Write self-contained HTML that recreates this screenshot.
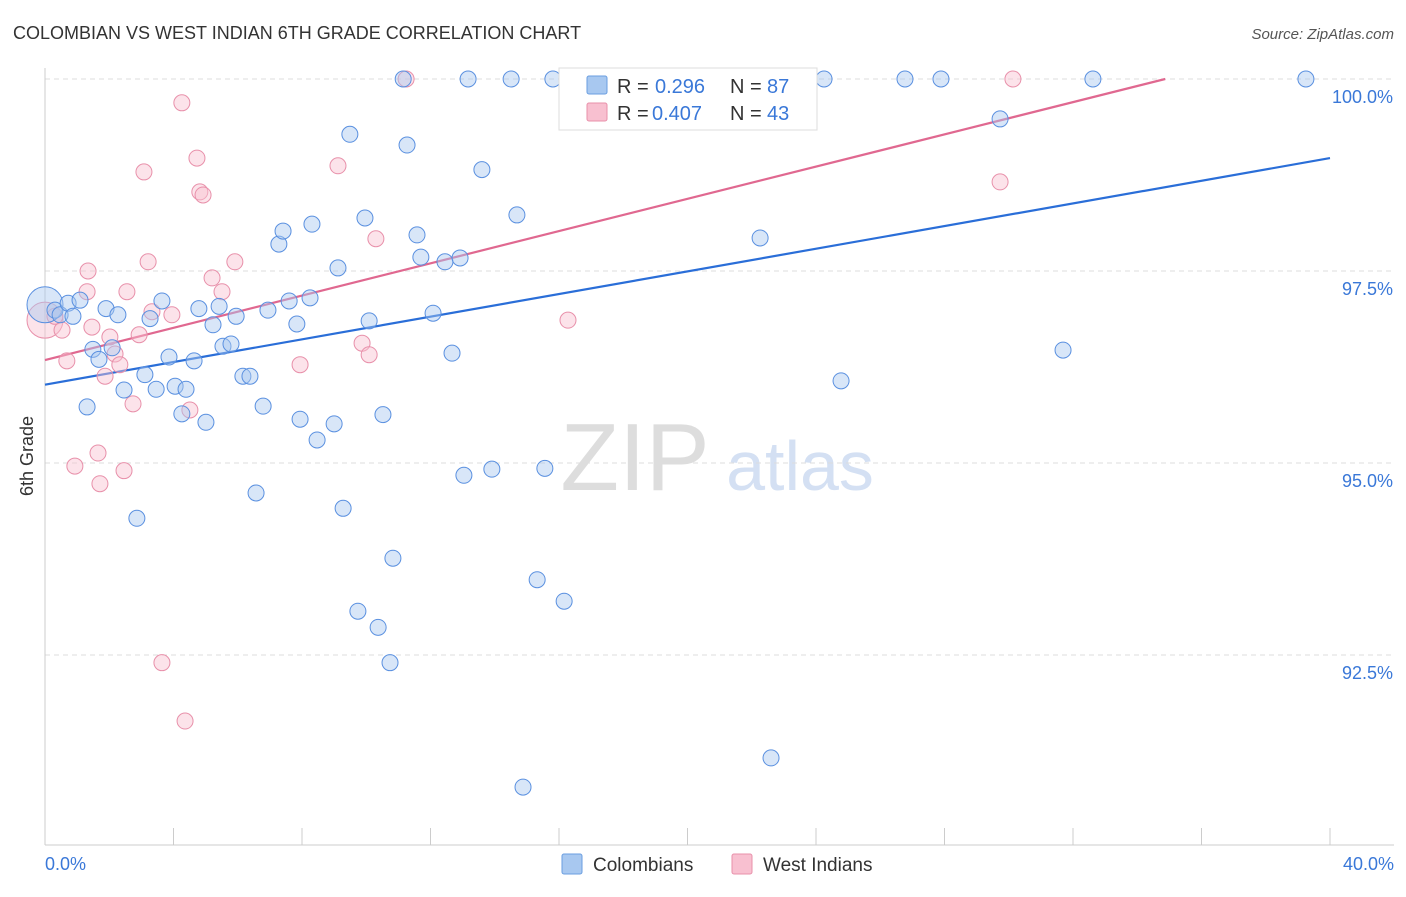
<!DOCTYPE html>
<html><head><meta charset="utf-8"><style>
body{margin:0;background:#fff;font-family:"Liberation Sans",sans-serif;}
svg text{font-family:"Liberation Sans",sans-serif;}
</style></head><body>
<svg id="c" width="1406" height="892" xmlns="http://www.w3.org/2000/svg">
<text x="13" y="39" font-size="18" fill="#333">COLOMBIAN VS WEST INDIAN 6TH GRADE CORRELATION CHART</text>
<text x="1394" y="39" font-size="15" fill="#555" font-style="italic" text-anchor="end">Source: ZipAtlas.com</text>
<text x="33" y="456" font-size="18" fill="#333" text-anchor="middle" transform="rotate(-90 33 456)">6th Grade</text>
<g><text x="635" y="490" font-size="96" fill="#ddd" text-anchor="middle" font-family="Liberation Serif">ZIP</text><text x="800" y="490" font-size="70" fill="#d4e0f3" text-anchor="middle">atlas</text></g>
<g id="grid"></g><g id="axes"></g><g id="lines"></g><g id="pts"></g>
<g>
<rect x="559" y="68" width="258" height="62" fill="#fff" stroke="#ddd"/>
<rect x="587" y="76" width="20" height="18" fill="#a8c8f0" stroke="#6a9ee0" rx="2"/>
<text x="617" y="93" font-size="20" fill="#333">R =</text>
<text x="655" y="93" font-size="20" fill="#3a78d8">0.296</text>
<text x="730" y="93" font-size="20" fill="#333">N =</text>
<text x="767" y="93" font-size="20" fill="#3a78d8">87</text>
<rect x="587" y="103" width="20" height="18" fill="#f8c0d0" stroke="#e890aa" rx="2"/>
<text x="617" y="120" font-size="20" fill="#333">R =</text>
<text x="652" y="120" font-size="20" fill="#3a78d8">0.407</text>
<text x="730" y="120" font-size="20" fill="#333">N =</text>
<text x="767" y="120" font-size="20" fill="#3a78d8">43</text>
</g>
<g>
<rect x="562" y="854" width="20" height="20" fill="#a8c8f0" stroke="#6a9ee0" rx="2"/>
<text x="593" y="871" font-size="19" fill="#333">Colombians</text>
<rect x="732" y="854" width="20" height="20" fill="#f8c0d0" stroke="#e890aa" rx="2"/>
<text x="763" y="871" font-size="19" fill="#333">West Indians</text>
</g>
</svg>
<script>
const blueX=[0,0.31,0.47,0.72,0.87,1.09,1.31,1.49,1.68,1.90,2.09,2.27,2.46,2.86,3.11,3.27,3.46,3.64,3.86,4.05,4.26,4.39,4.64,4.79,5.01,5.23,5.42,5.54,5.79,5.95,6.16,6.38,6.57,6.79,6.94,7.28,7.41,7.60,7.84,7.94,8.25,8.31,8.47,9.00,9.12,9.28,9.49,9.74,9.96,10.09,10.37,10.52,10.74,10.83,11.15,11.27,11.58,11.70,12.08,12.45,12.67,12.92,13.04,13.17,13.60,13.91,14.51,14.69,15.32,15.56,15.81,16.16,22.26,22.60,14.88,24.25,24.78,26.77,27.89,29.73,31.69,32.62,39.25];
const blueY=[97.06,96.99,96.93,97.08,96.91,97.12,95.73,96.48,96.35,97.01,96.50,96.93,95.95,94.28,96.15,96.88,95.96,97.11,96.38,96.00,95.64,95.96,96.33,97.01,95.53,96.80,97.04,96.52,96.55,96.91,96.13,96.13,94.61,95.74,96.99,97.85,98.02,97.11,96.81,95.57,97.15,98.11,95.30,95.51,97.54,94.41,99.28,93.07,98.19,96.85,92.86,95.63,92.40,93.76,100,99.14,97.97,97.68,96.95,97.62,96.43,97.67,94.84,100,98.82,94.92,100,98.23,93.48,94.93,100,93.20,97.93,91.16,90.78,100,96.07,100,100,99.48,96.47,100,100];
const pinkX=[0,0.31,0.53,0.68,0.93,1.34,1.46,1.65,1.71,1.87,2.02,2.18,2.33,2.46,2.55,2.74,2.93,3.08,3.21,3.33,3.64,3.95,4.26,4.36,4.51,4.73,4.82,4.92,5.20,5.51,5.91,7.94,9.12,9.87,10.09,10.30,11.24,16.28,29.73,30.13,1.31];
const pinkY=[96.86,96.91,96.73,96.33,94.96,97.50,96.77,95.13,94.73,96.13,96.64,96.42,96.28,94.90,97.23,95.77,96.67,98.79,97.62,96.97,92.40,96.93,99.69,91.64,95.69,98.97,98.53,98.49,97.41,97.23,97.62,96.28,98.87,96.56,96.41,97.92,100,96.86,98.66,100,97.23];
const trendBlue=[96.02,98.97];
const trendPink=[96.34,100.0];
const pinkEndX=34.87;
const yTicks=[92.5,95,97.5,100];
const xTickLabels=["0.0%","40.0%"];
const NS="http://www.w3.org/2000/svg";
const sx=v=>45+v/40*1285, sy=v=>79+(100-v)*76.8;
function mk(t,a,p){const e=document.createElementNS(NS,t);for(const k in a)e.setAttribute(k,a[k]);p.appendChild(e);return e;}
const grid=document.getElementById('grid'),axes=document.getElementById('axes'),lines=document.getElementById('lines'),pts=document.getElementById('pts');
yTicks.forEach(v=>{const l=mk('line',{x1:45,x2:1394,y1:sy(v),y2:sy(v),stroke:'#ddd','stroke-dasharray':'5,4'},grid);


const t=mk('text',{x:1393,y:sy(v)+24,'font-size':18,fill:'#3a78d8','text-anchor':'end'},axes);t.textContent=v.toFixed(1)+'%';

});
const yl=mk('line',{x1:45,x2:45,y1:68,y2:845,stroke:'#ccc'},axes);


const xl=mk('line',{x1:45,x2:1394,y1:845,y2:845,stroke:'#ccc'},axes);


for(let i=0;i<=10;i++){const tk=mk('line',{x1:sx(i*4),x2:sx(i*4),y1:828,y2:845,stroke:'#ccc'},axes);

}
const t0=mk('text',{x:45,y:870,'font-size':18,fill:'#3a78d8'},axes);t0.textContent=xTickLabels[0];


const t1=mk('text',{x:1394,y:870,'font-size':18,fill:'#3a78d8','text-anchor':'end'},axes);t1.textContent=xTickLabels[1];


function dots(X,Y,fill,stroke,name){X.forEach((x,i)=>{const c=mk('circle',{cx:sx(x),cy:sy(Y[i]),r:(i===0?18:8),fill:fill,'fill-opacity':0.45,stroke:stroke,'stroke-width':1},pts);

});}
dots(pinkX,pinkY,'#f8c0d0','#e890aa','west-indian-point');
dots(blueX,blueY,'#a8c8f0','#5a90e0','colombian-point');
const lb=mk('line',{x1:sx(0),y1:sy(trendBlue[0]),x2:sx(40),y2:sy(trendBlue[1]),stroke:'#2a6ed8','stroke-width':2.2},lines);


const lp=mk('line',{x1:sx(0),y1:sy(trendPink[0]),x2:sx(pinkEndX),y2:sy(trendPink[1]),stroke:'#e06890','stroke-width':2.2},lines);


</script>
</body></html>
